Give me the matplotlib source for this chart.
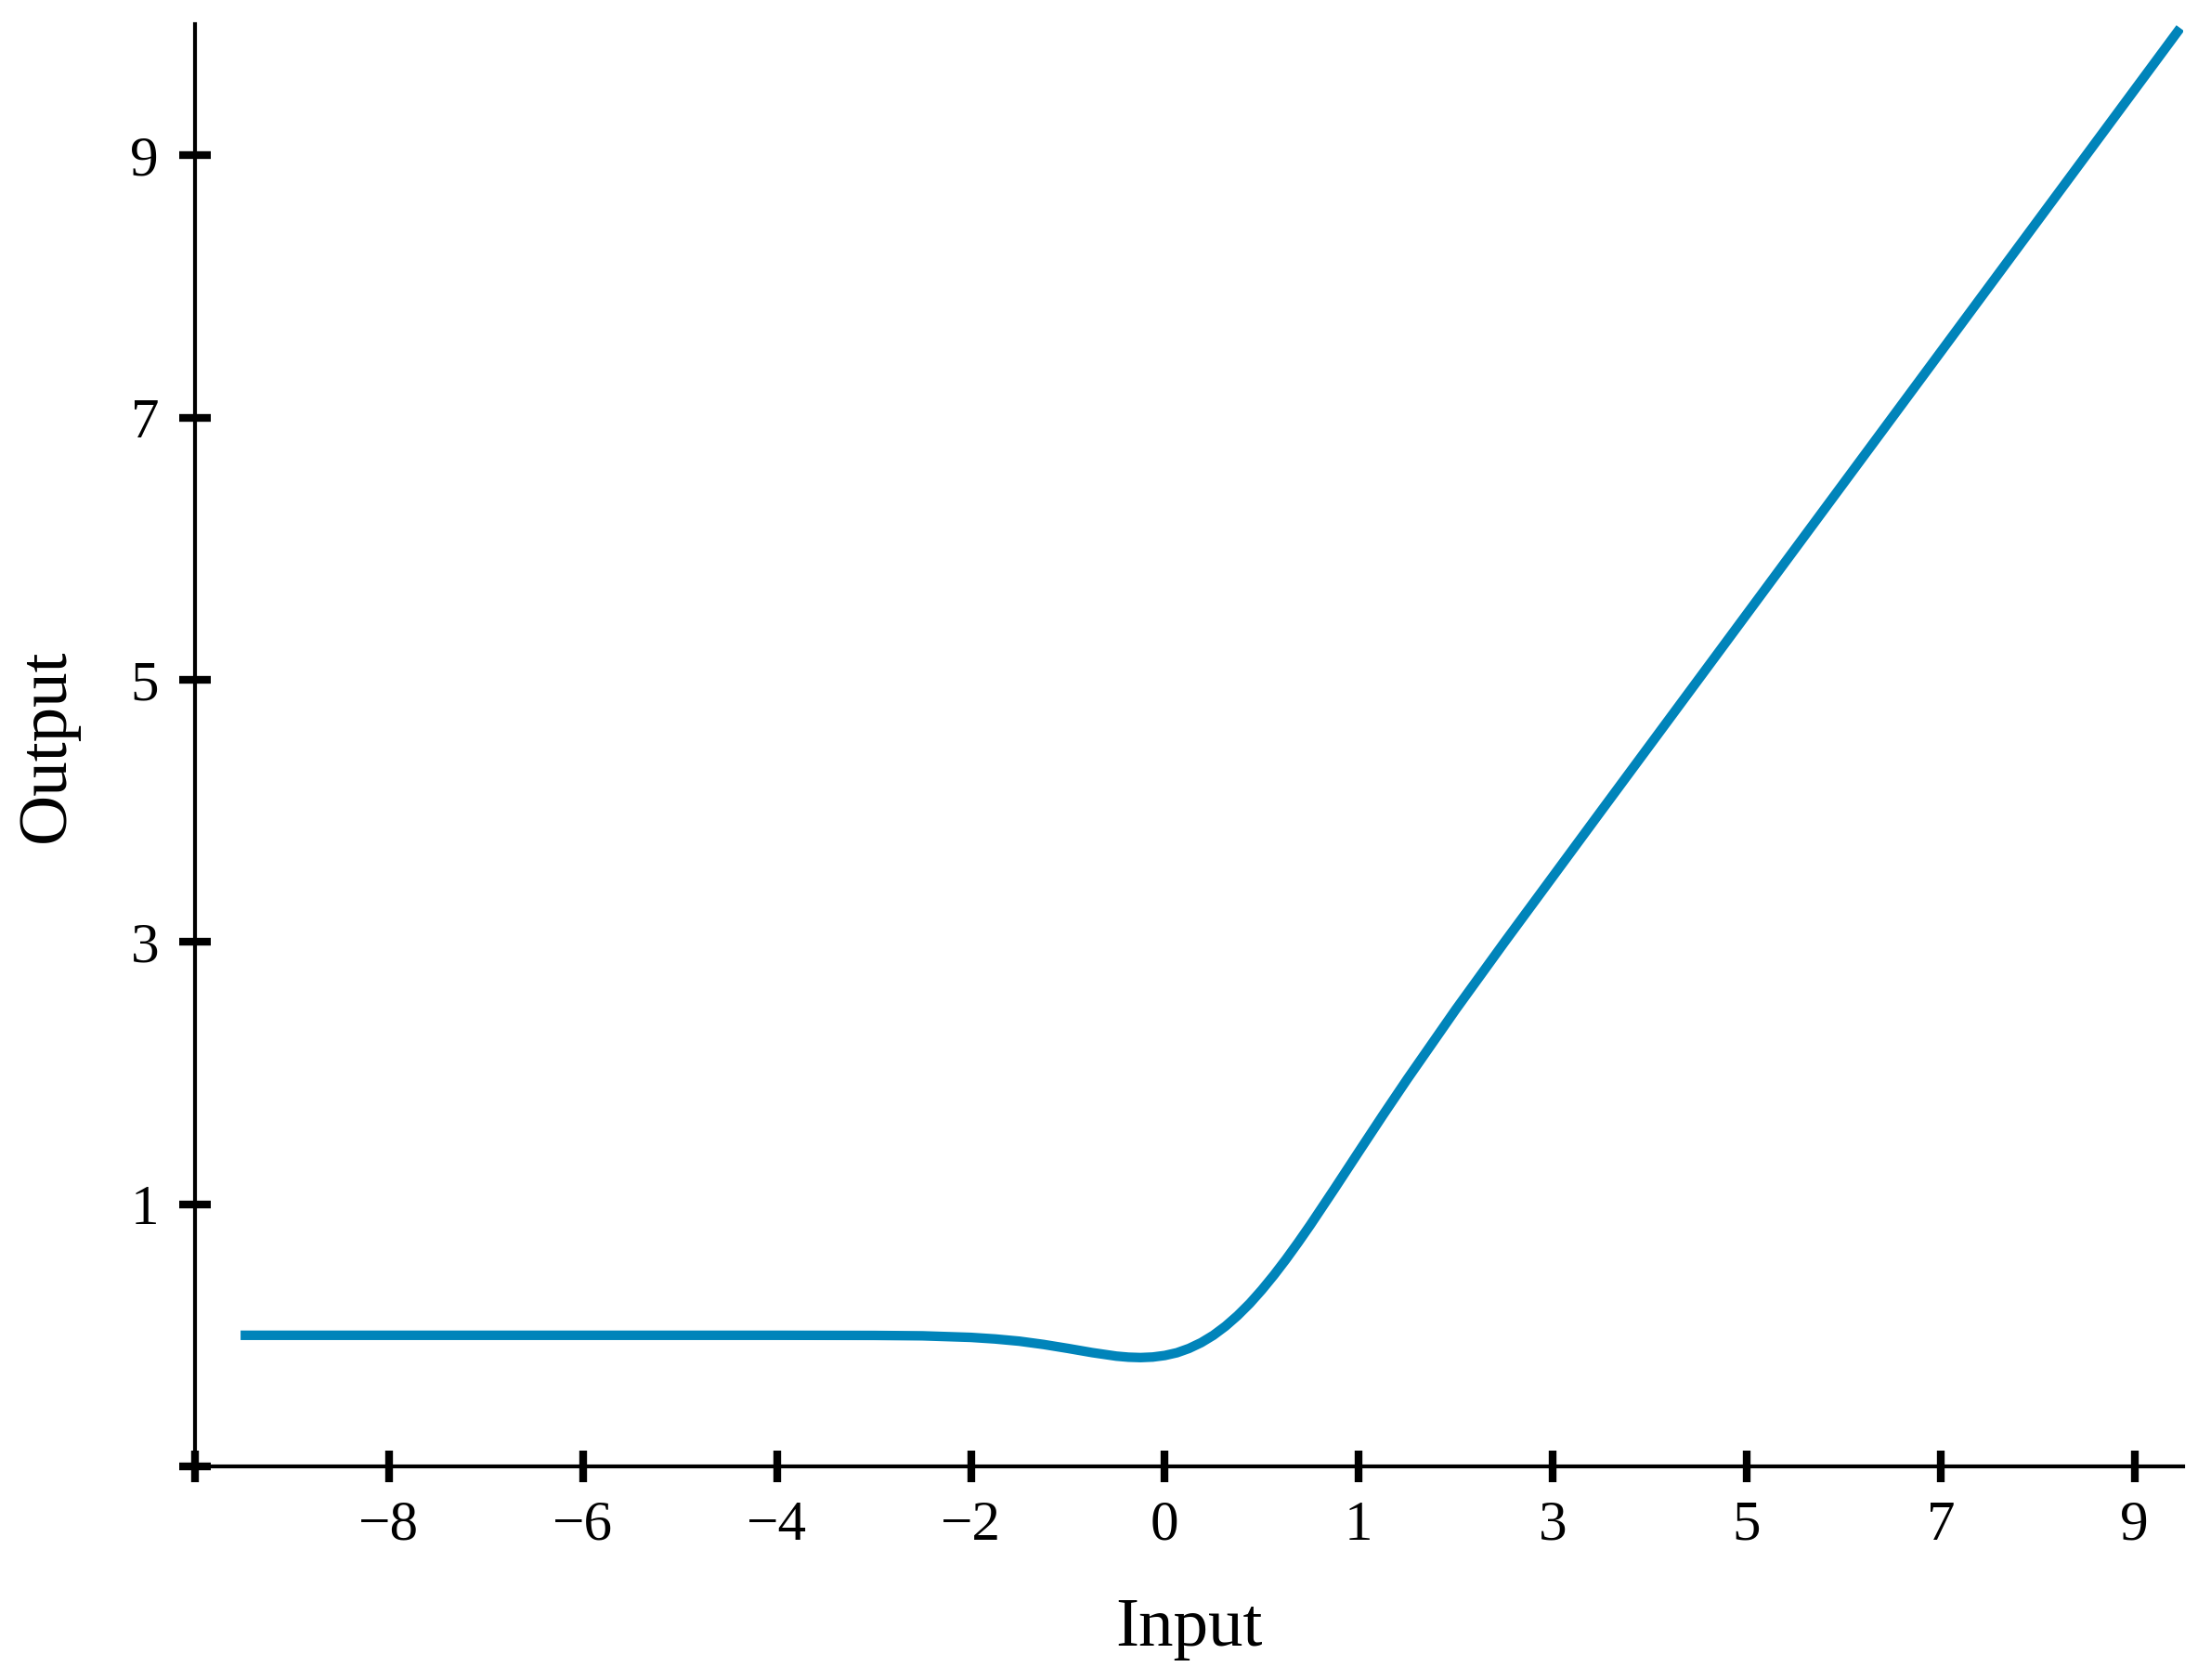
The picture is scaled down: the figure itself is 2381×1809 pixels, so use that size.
import matplotlib
matplotlib.use("Agg")
import matplotlib.pyplot as plt

# Curve samples (x in axis-position units, y in output units)
x_vals = [-9.53, -8.0, -6.0, -4.0, -3.0, -2.5, -2.0, -1.75, -1.5, -1.25, -1.0, -0.75,
          -0.5, -0.375, -0.25, -0.125, 0.0, 0.125, 0.25, 0.375, 0.5, 0.625, 0.75, 0.875,
          1.0, 1.125, 1.25, 1.375, 1.5, 1.75, 2.0, 2.25, 2.5,
          3.0, 3.5, 4.5, 6.0, 8.0, 10.47]
y_vals = [0.0, 0.0, 0.0, 0.0, -0.001, -0.004, -0.016, -0.028, -0.045, -0.070, -0.100, -0.132,
          -0.159, -0.167, -0.170, -0.166, -0.154, -0.133, -0.100, -0.056, 0.0, 0.069, 0.150, 0.242,
          0.346, 0.459, 0.580, 0.708, 0.841, 1.118, 1.400, 1.680, 1.954,
          2.485, 2.996, 4.0, 5.5, 7.5, 9.97]

x_tick_pos = [-10, -8, -6, -4, -2, 0, 2, 4, 6, 8, 10]
x_tick_labels = ["", "\u22128", "\u22126", "\u22124", "\u22122", "0", "1", "3", "5", "7", "9"]
y_tick_pos = [-1, 1, 3, 5, 7, 9]
y_tick_labels = ["", "1", "3", "5", "7", "9"]

plt.rcParams['font.family'] = ['Liberation Serif', 'DejaVu Serif']

fig = plt.figure(figsize=(2381 / 200, 1809 / 200), dpi=200)
ax = fig.add_axes([210 / 2381, 1 - 1579 / 1809, (2351 - 210) / 2381, (1579 - 26) / 1809])

ax.plot(x_vals, y_vals, color="#0084BA", linewidth=3.7, solid_capstyle="butt",
        solid_joinstyle="round")

ax.set_xlim(-10, 10.5)
ax.set_ylim(-1, 10)

ax.spines["top"].set_visible(False)
ax.spines["right"].set_visible(False)
for s in ("left", "bottom"):
    ax.spines[s].set_linewidth(1.5)

ax.set_xticks(x_tick_pos)
ax.set_xticklabels(x_tick_labels)
ax.set_yticks(y_tick_pos)
ax.set_yticklabels(y_tick_labels)
ax.tick_params(axis="both", direction="inout", length=12, width=3, labelsize=22, color="black")
ax.tick_params(axis="x", pad=7)
ax.tick_params(axis="y", pad=8)

ax.set_xlabel("Input", fontsize=27, labelpad=18)
ax.set_ylabel("Output", fontsize=27, labelpad=20)

fig.savefig("out.png", dpi=200, facecolor="white")
